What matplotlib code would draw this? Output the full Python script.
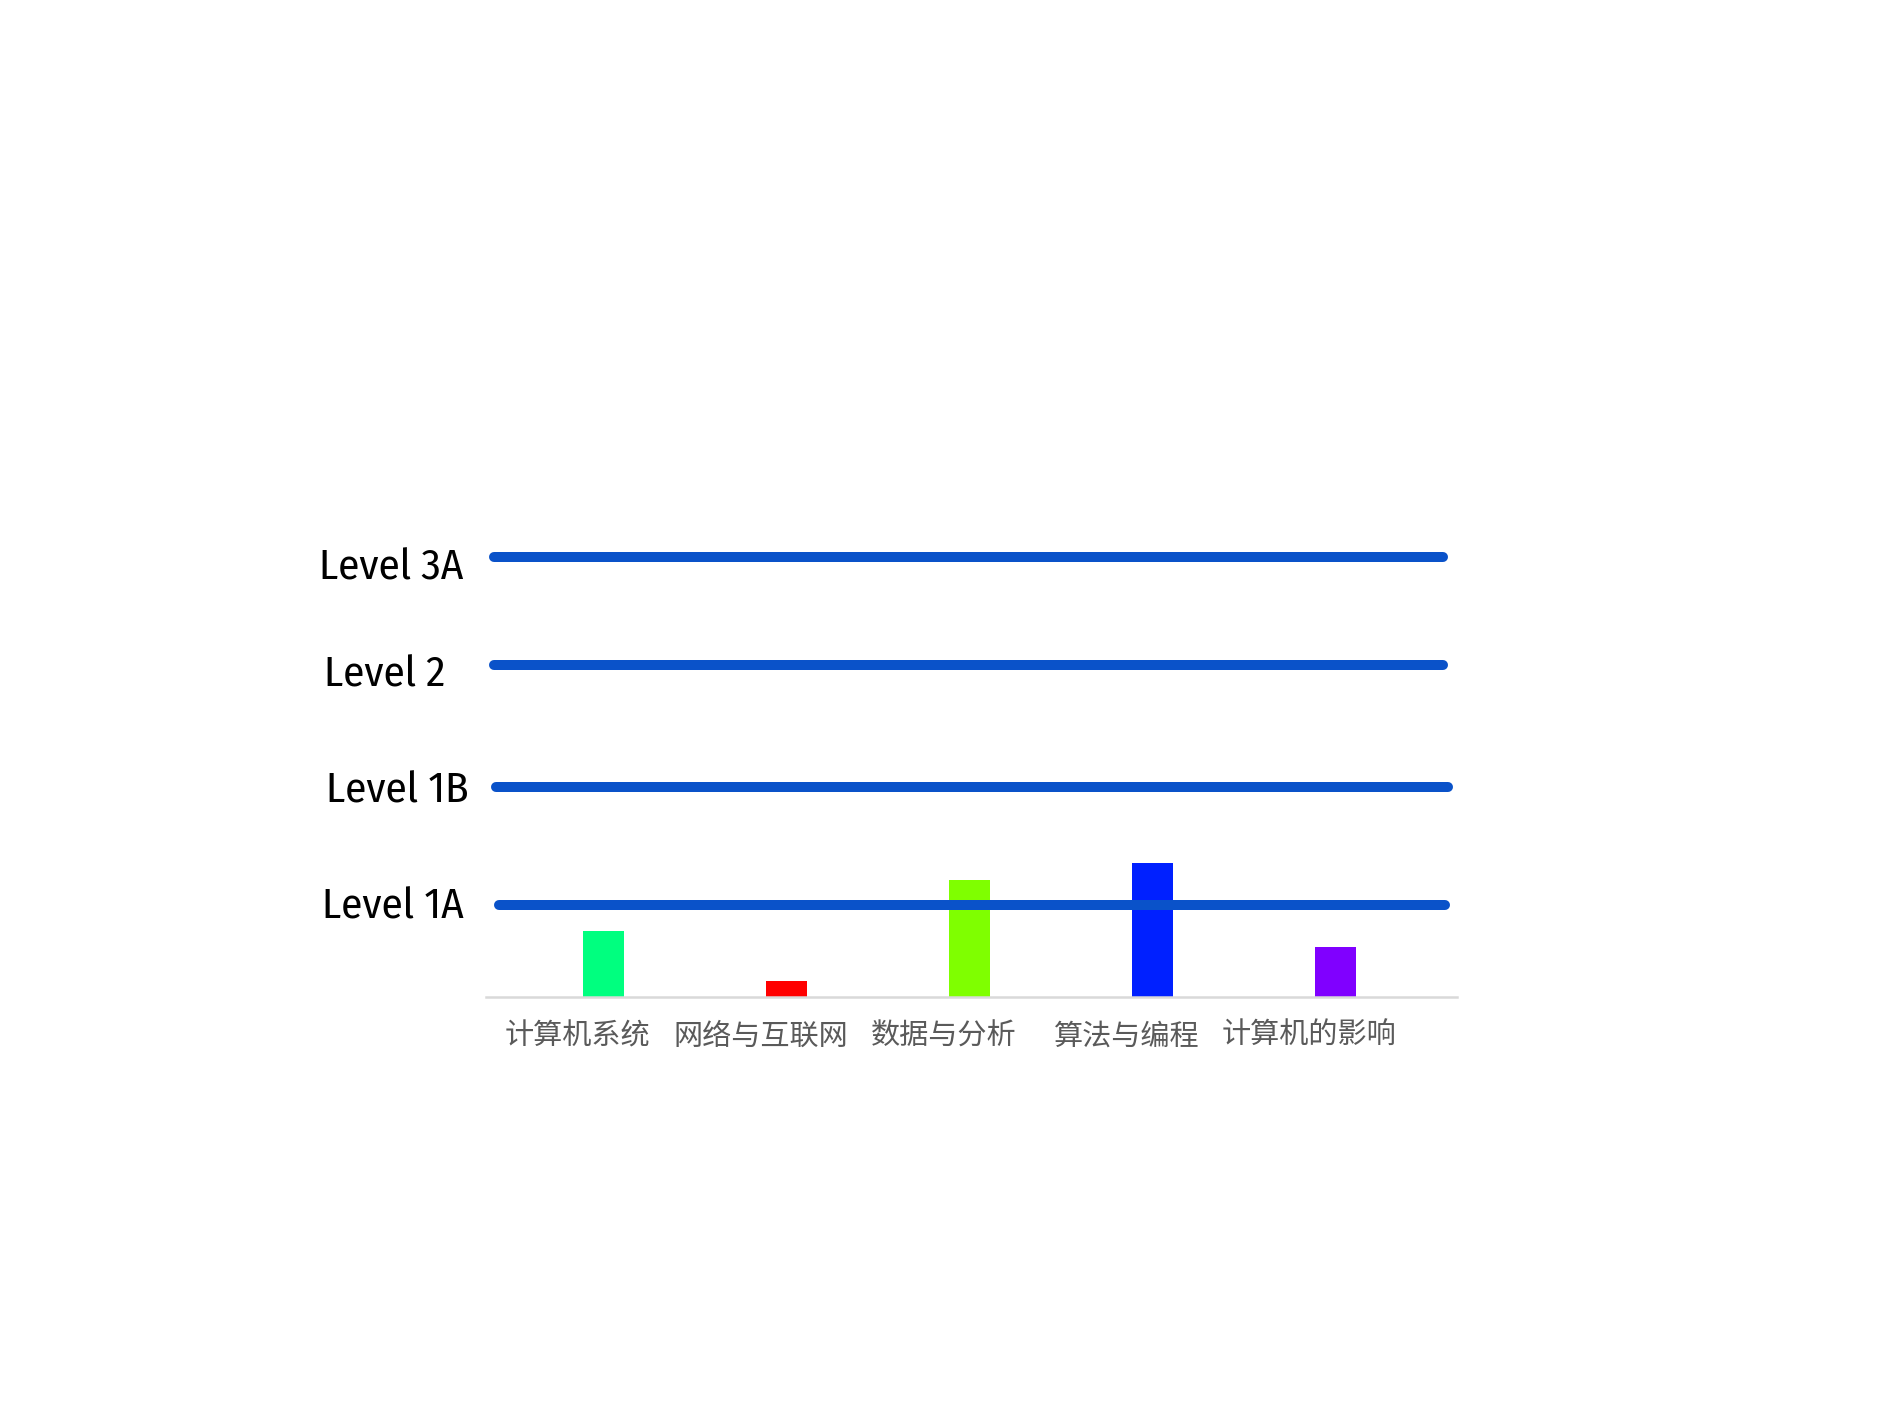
"""
Bar chart of topic scores with the level reference lines drawn across it.
Writes out.png (1890x1417).
"""
import matplotlib
matplotlib.use("Agg")
import matplotlib.pyplot as plt
import numpy as np

CATEGORIES = ["计算机系统", "网络与互联网", "数据与分析", "算法与编程", "计算机的影响"]
VALUES = [3.3, 0.8, 5.85, 6.7, 2.5]
BAR_COLORS = ["#00ff7f", "#ff0000", "#7fff00", "#0020ff", "#8000ff"]

LEVEL_NAMES = ["Level 3A", "Level 2", "Level 1B", "Level 1A"]
LEVEL_VALUES = [22.0, 16.6, 10.5, 4.6]

LINE_BLUE = "#0a52c9"
LABEL_FONT = ["Fira Sans Condensed", "DejaVu Sans"]


def main():
    fig = plt.figure(figsize=(18.9, 14.17), dpi=100)
    ax = fig.add_axes([486 / 1890, 420 / 1417, 971 / 1890, 460 / 1417])

    x = np.arange(len(CATEGORIES))
    ax.bar(x + 0.142, VALUES, 0.222, color=BAR_COLORS, zorder=2)

    # hand-drawn level lines: spans differ a little from line to line
    spans = [(-0.458, 4.728), (-0.458, 4.728), (-0.444, 4.755), (-0.427, 4.740)]
    for (x0, x1), lv in zip(spans, LEVEL_VALUES):
        ax.plot([x0, x1], [lv, lv], color=LINE_BLUE, lw=7.2,
                solid_capstyle="round", zorder=3, clip_on=False)

    label_x = [-1.019, -1.052, -0.984, -1.009]
    label_drop = [1.15, 1.08, 0.78, 0.66]
    for name, lv, lx, dy in zip(LEVEL_NAMES, LEVEL_VALUES, label_x, label_drop):
        ax.text(lx, lv - dy, name, ha="center", va="baseline", fontsize=31,
                family=LABEL_FONT, color="black", clip_on=False)

    ax.set_xlim(-0.5, 4.806)
    ax.set_ylim(0, 23)
    ax.set_xticks(x)
    ax.set_xticklabels(CATEGORIES, fontsize=21, color="#5a5a5a",
                       family=["Noto Sans CJK SC", "DejaVu Sans"])
    ax.tick_params(axis="x", length=0, pad=17.5)
    ax.set_yticks([])
    for side in ["top", "left", "right"]:
        ax.spines[side].set_visible(False)
    ax.spines["bottom"].set_color("#d9d9d9")
    ax.spines["bottom"].set_linewidth(1.8)
    ax.patch.set_alpha(0)

    fig.savefig("out.png", dpi=100)


if __name__ == "__main__":
    main()
